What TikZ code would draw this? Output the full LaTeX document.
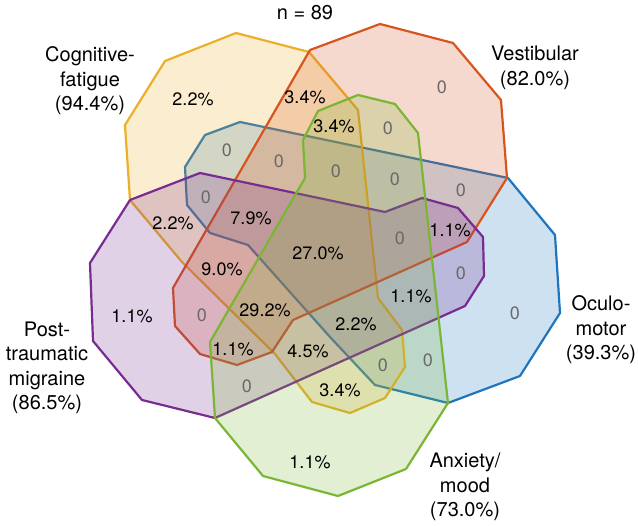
\documentclass[tikz,border=0pt]{standalone}
\usepackage{fontspec}
\setmainfont{TeX Gyre Heros}
\definecolor{ycol}{RGB}{236,176,40}
\definecolor{ocol}{RGB}{216,84,30}
\definecolor{gcol}{RGB}{122,182,52}
\definecolor{bcol}{RGB}{30,117,190}
\definecolor{pcol}{RGB}{120,44,145}
\definecolor{zgray}{RGB}{105,105,105}
\begin{document}
\begin{tikzpicture}[x=1pt,y=-1pt]
\tikzset{
  setshape/.style={line width=2.2pt, line join=round, fill opacity=0.22, draw opacity=1},
  lab/.style={font=\fontsize{20}{24.5}\selectfont, align=center, inner sep=0pt},
  pct/.style={font=\fontsize{18}{20}\selectfont, inner sep=0pt},
  zro/.style={pct, text=zgray}
}
\useasboundingbox (0,0) rectangle (638,526);
% Oculo-motor (blue)
\draw[setshape, draw=bcol, fill=bcol] (240,122) -- (205,135) -- (185,167) -- (187,205) -- (210,233) -- (248,245) -- (330,337) -- (375,385) -- (448,403) -- (520,376) -- (560,313) -- (555,235) -- (508,178) -- cycle;
% Cognitive-fatigue (yellow)
\draw[setshape, draw=ycol, fill=ycol] (236,33) -- (309,52) -- (358,110) -- (378,298) -- (402,330) -- (405,367) -- (385,398) -- (350,413) -- (312,402) -- (275,354) -- (182,262) -- (130,200) -- (125,125) -- (165,61) -- cycle;
% Vestibular (orange)
\draw[setshape, draw=ocol, fill=ocol] (310,50) -- (380,24) -- (453,43) -- (501,100) -- (507,178) -- (467,242) -- (293,320) -- (272,352) -- (237,365) -- (200,354) -- (175,326) -- (173,288) -- cycle;
% Post-traumatic migraine (purple)
\draw[setshape, draw=pcol, fill=pcol] (200,173) -- (130,200) -- (90,263) -- (93,341) -- (142,400) -- (215,418) -- (465,306) -- (484,276) -- (483,237) -- (458,208) -- (422,198) -- (385,212) -- cycle;
% Anxiety/mood (green)
\draw[setshape, draw=gcol, fill=gcol] (358,95) -- (395,104) -- (418,133) -- (448,403) -- (406,469) -- (338,496) -- (263,476) -- (215,418) -- (210,342) -- (305,178) -- (303,140) -- (318,111) -- cycle;

% titles
\node[lab] (n) at (305,13) {n = 89};
\node[lab] (lcog) at (90,81) {Cognitive-\\fatigue\\(94.4\%)};
\node[lab] (lves) at (535,68) {Vestibular\\(82.0\%)};
\node[lab] (lptm) at (47,368) {Post-\\traumatic\\migraine\\(86.5\%)};
\node[lab] (locu) at (601,330) {Oculo-\\motor\\(39.3\%)};
\node[lab] (lanx) at (465,487) {Anxiety/\\mood\\(73.0\%)};

% region values
\node[pct] (r1) at (193,99) {2.2\%};
\node[pct] (r2) at (305,97) {3.4\%};
\node[zro] (r3) at (442,87) {0};
\node[pct] (r4) at (334,126) {3.4\%};
\node[zro] (r5) at (388,128) {0};
\node[zro] (r6) at (227,150) {0};
\node[zro] (r7) at (279,161) {0};
\node[zro] (r8) at (336,171) {0};
\node[zro] (r9) at (395,179) {0};
\node[zro] (r10) at (461,190) {0};
\node[zro] (r11) at (206,197) {0};
\node[pct] (r12) at (251,218) {7.9\%};
\node[pct] (r13) at (173,223) {2.2\%};
\node[pct] (r14) at (318,253) {27.0\%};
\node[zro] (r15) at (400,238) {0};
\node[pct] (r16) at (450,230) {1.1\%};
\node[pct] (r17) at (222,269) {9.0\%};
\node[zro] (r18) at (461,273) {0};
\node[pct] (r19) at (132,316) {1.1\%};
\node[zro] (r20) at (202,315) {0};
\node[pct] (r21) at (265,310) {29.2\%};
\node[pct] (r22) at (411,296) {1.1\%};
\node[zro] (r23) at (515,313) {0};
\node[pct] (r24) at (356,324) {2.2\%};
\node[pct] (r25) at (233,349) {1.1\%};
\node[pct] (r26) at (308,351) {4.5\%};
\node[zro] (r27) at (383,365) {0};
\node[zro] (r28) at (428,360) {0};
\node[zro] (r29) at (247,386) {0};
\node[pct] (r30) at (340,390) {3.4\%};
\node[pct] (r31) at (310,462) {1.1\%};
\end{tikzpicture}
\end{document}
